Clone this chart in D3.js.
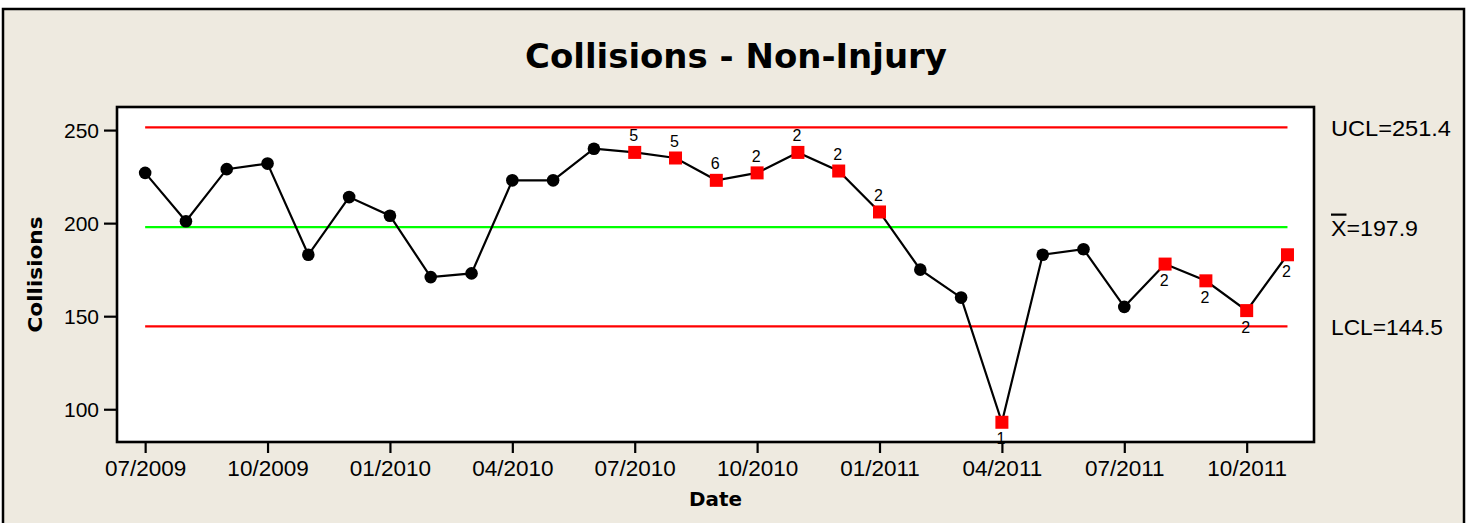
<!DOCTYPE html>
<html>
<head>
<meta charset="utf-8">
<script src="https://cdn.jsdelivr.net/npm/d3@7"></script>
<style>
  body { margin: 0; background: #ffffff; }
  svg text { font-family: "Liberation Sans", Arial, sans-serif; fill: #000; }
  .title, .axislabel { font-family: "DejaVu Sans", Verdana, sans-serif; font-weight: bold; }
  .limit { stroke-width: 2.2; }
  .axis path, .axis line { stroke: #000; stroke-width: 2.2; }
</style>
</head>
<body>
<svg id="chart"></svg>
<script>
var width = 1472,
    height = 523;

// monthly observations, 07/2009 .. 11/2011
var months = ["07/2009","08/2009","09/2009","10/2009","11/2009","12/2009",
              "01/2010","02/2010","03/2010","04/2010","05/2010","06/2010",
              "07/2010","08/2010","09/2010","10/2010","11/2010","12/2010",
              "01/2011","02/2011","03/2011","04/2011","05/2011","06/2011",
              "07/2011","08/2011","09/2011","10/2011","11/2011"];

var collisions = [227, 201, 229, 232, 183, 214, 204, 171, 173, 223, 223, 240,
                  238, 235, 223, 227, 238, 228, 206, 175, 160, 93, 183, 186,
                  155, 178, 169, 153, 183];

// points that failed a test, and which test
var flagged = [12, 13, 14, 15, 16, 17, 18, 21, 25, 26, 27, 28];
var flagTest = ["5", "5", "6", "2", "2", "2", "2", "1", "2", "2", "2", "2"];

var ucl = 251.4, mean = 197.9, lcl = 144.5;

var xTicks = [0, 3, 6, 9, 12, 15, 18, 21, 24, 27];
var yTicks = [100, 150, 200, 250];

var plot = {left: 117, top: 107, right: 1314, bottom: 442};

var x = d3.scaleLinear()
          .domain([-0.69, 28.65])
          .range([plot.left, plot.right]);

var y = d3.scaleLinear()
          .domain([82.4, 262.4])
          .range([plot.bottom, plot.top]);

var chart = d3.select("#chart")
              .attr("width", width)
              .attr("height", height);

// outer frame
chart.append("rect")
     .attr("x", 3).attr("y", 9)
     .attr("width", 1461).attr("height", 530)
     .attr("fill", "#eeeae0")
     .attr("stroke", "#000")
     .attr("stroke-width", 2.5);

chart.append("text")
     .attr("class", "title")
     .attr("x", 736).attr("y", 68)
     .attr("text-anchor", "middle")
     .attr("font-size", 34)
     .attr("textLength", 422).attr("lengthAdjust", "spacingAndGlyphs")
     .text("Collisions - Non-Injury");

// plot area
chart.append("rect")
     .attr("x", plot.left).attr("y", plot.top)
     .attr("width", plot.right - plot.left).attr("height", plot.bottom - plot.top)
     .attr("fill", "#fff")
     .attr("stroke", "#000")
     .attr("stroke-width", 2.6);

// axes
var yAxis = chart.append("g")
     .attr("class", "axis")
     .attr("transform", "translate(" + plot.left + ",0)")
     .call(d3.axisLeft(y).tickValues(yTicks).tickSize(13).tickPadding(5));
yAxis.select(".domain").remove();
yAxis.selectAll("text").attr("font-size", 21).attr("dy", "0.36em");

var xAxis = chart.append("g")
     .attr("class", "axis")
     .attr("transform", "translate(0," + plot.bottom + ")")
     .call(d3.axisBottom(x).tickValues(xTicks).tickSize(11).tickPadding(7)
             .tickFormat(function(d) { return months[d]; }));
xAxis.select(".domain").remove();
xAxis.selectAll("text").attr("font-size", 22.5).attr("dy", "0.71em");

chart.append("text")
     .attr("class", "axislabel")
     .attr("x", (plot.left + plot.right) / 2).attr("y", 506)
     .attr("text-anchor", "middle")
     .attr("font-size", 19)
     .attr("textLength", 53).attr("lengthAdjust", "spacingAndGlyphs")
     .text("Date");

chart.append("text")
     .attr("class", "axislabel")
     .attr("transform", "translate(42," + (plot.top + plot.bottom) / 2 + ") rotate(-90)")
     .attr("text-anchor", "middle")
     .attr("font-size", 19)
     .attr("textLength", 116).attr("lengthAdjust", "spacingAndGlyphs")
     .text("Collisions");

// control limits
var limits = [
  {v: ucl, c: "#ff0000"},
  {v: mean, c: "#00ff00"},
  {v: lcl, c: "#ff0000"}
];
chart.selectAll("line.limit")
     .data(limits)
     .enter().append("line")
       .attr("class", "limit")
       .attr("x1", x(0))
       .attr("x2", x(collisions.length - 1))
       .attr("y1", function(d) { return y(d.v); })
       .attr("y2", function(d) { return y(d.v); })
       .attr("stroke", function(d) { return d.c; });

var uclText = chart.append("text")
     .attr("x", 1331).attr("y", y(ucl) + 8.5)
     .attr("font-size", 22)
     .attr("textLength", 120).attr("lengthAdjust", "spacingAndGlyphs")
     .text("UCL=251.4");

var meanText = chart.append("text")
     .attr("x", 1331).attr("y", y(mean) + 8.5)
     .attr("font-size", 22)
     .attr("textLength", 87).attr("lengthAdjust", "spacingAndGlyphs");
meanText.append("tspan").style("text-decoration", "overline").text("X");
meanText.append("tspan").text("=197.9");

chart.append("text")
     .attr("x", 1331).attr("y", y(lcl) + 8.5)
     .attr("font-size", 22)
     .attr("textLength", 112).attr("lengthAdjust", "spacingAndGlyphs")
     .text("LCL=144.5");

// series
var line = d3.line()
             .x(function(d, i) { return x(i); })
             .y(function(d) { return y(d); });

chart.append("path")
     .datum(collisions)
     .attr("d", line)
     .attr("fill", "none")
     .attr("stroke", "#000")
     .attr("stroke-width", 2.2);

var points = collisions.map(function(v, i) {
  var k = flagged.indexOf(i);
  return {i: i, v: v, flag: k >= 0, test: k >= 0 ? flagTest[k] : null};
});

chart.selectAll("circle.pt")
     .data(points.filter(function(d) { return !d.flag; }))
     .enter().append("circle")
       .attr("class", "pt")
       .attr("cx", function(d) { return x(d.i); })
       .attr("cy", function(d) { return y(d.v); })
       .attr("r", 6.3)
       .attr("fill", "#000");

var bad = points.filter(function(d) { return d.flag; });

chart.selectAll("rect.pt")
     .data(bad)
     .enter().append("rect")
       .attr("class", "pt")
       .attr("x", function(d) { return x(d.i) - 6.5; })
       .attr("y", function(d) { return y(d.v) - 6.5; })
       .attr("width", 13).attr("height", 13)
       .attr("fill", "#ff0000");

chart.selectAll("text.test")
     .data(bad)
     .enter().append("text")
       .attr("class", "test")
       .attr("x", function(d) { return x(d.i) - 1; })
       .attr("y", function(d) { return d.v > mean ? y(d.v) - 11 : y(d.v) + 22; })
       .attr("text-anchor", "middle")
       .attr("font-size", 16)
       .text(function(d) { return d.test; });
</script>
</body>
</html>
